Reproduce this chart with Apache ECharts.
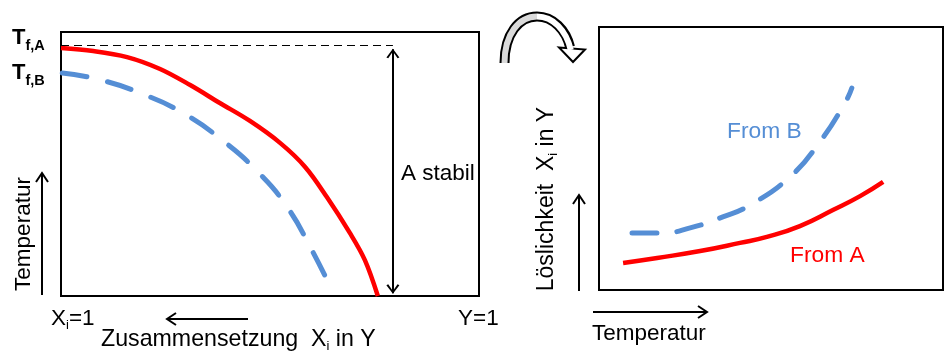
<!DOCTYPE html>
<html><head><meta charset="utf-8">
<script src="https://cdn.jsdelivr.net/npm/echarts@6/dist/echarts.min.js"></script>
<style>html,body{margin:0;padding:0;background:#fff}#c{width:947px;height:353px}</style>
</head><body><div id="c"></div>
<script>
// ---- Left panel: composition (0 = X_i=1 ... 1 = Y=1) vs. normalized temperature
const leftX_A = [0, 0.077, 0.158, 0.237, 0.309, 0.380, 0.452, 0.524, 0.584, 0.636, 0.691, 0.727, 0.758];
const leftT_A = [0.939, 0.928, 0.905, 0.860, 0.799, 0.731, 0.663, 0.580, 0.489, 0.375, 0.239, 0.136, 0.0];
const leftX_B = [0.003, 0.086, 0.189, 0.292, 0.385, 0.471, 0.541, 0.596, 0.648];
const leftT_B = [0.845, 0.822, 0.769, 0.693, 0.591, 0.470, 0.337, 0.186, 0.023];
const tfA = 0.951;          // level of T_f,A (dashed guide)
const stableX = 0.794;      // position of the "A stabil" double arrow
const stableTop = 0.935;
const stableBottom = 0.01;
// ---- Right panel: temperature vs. solubility (normalized)
const rightT_A = [0.070, 0.169, 0.294, 0.410, 0.488, 0.584, 0.680, 0.759, 0.826];
const rightS_A = [0.103, 0.122, 0.148, 0.179, 0.202, 0.243, 0.304, 0.357, 0.411];
const rightT_B = [0.096, 0.183, 0.265, 0.360, 0.439, 0.555, 0.642, 0.715, 0.735];
const rightS_B = [0.217, 0.217, 0.236, 0.278, 0.323, 0.430, 0.563, 0.711, 0.768];
// ---- Labels
const labelTfA = ['T', 'f,A'];
const labelTfB = ['T', 'f,B'];
const labelStable = 'A stabil';
const labelFromA = 'From A';
const labelFromB = 'From B';
const labelTemp = 'Temperatur';
const labelXi1 = ['X', 'i', '=1'];
const labelY1 = 'Y=1';
const labelComp = ['Zusammensetzung  X', 'i', ' in Y'];
const labelSol = ['Löslichkeit  X', 'i', ' in Y'];

const RED = '#FF0000', BLUE = '#558ED5';
const FONT = '"Liberation Sans", Arial, sans-serif';
const FS = 22.5;
const zip = (a, b) => a.map((v, i) => [v, b[i]]);

function arrowEls(x1, y1, x2, y2) {
  const dx = x2 - x1, dy = y2 - y1, L = Math.hypot(dx, dy);
  const ux = dx / L, uy = dy / L, nx = -uy, ny = ux, a = 9, w = 6;
  return [
    {type: 'polyline', silent: true, shape: {points: [[x1, y1], [x2, y2]]}, style: {stroke: '#000', lineWidth: 2, fill: null}},
    {type: 'polyline', silent: true, shape: {points: [[x2 - a*ux + w*nx, y2 - a*uy + w*ny], [x2, y2], [x2 - a*ux - w*nx, y2 - a*uy - w*ny]]},
     style: {stroke: '#000', lineWidth: 2, fill: null}}
  ];
}
function subText(x, y, parts, rot, size) {
  const fs = size || FS;
  return {
    type: 'text', silent: true, x: x, y: y, rotation: rot || 0,
    style: {
      text: '{a|' + parts[0] + '}{s|' + parts[1] + '}{a|' + parts[2] + '}',
      align: rot ? 'center' : 'left', verticalAlign: 'middle',
      rich: {
        a: {fontSize: fs, fontFamily: FONT, fill: '#000', lineHeight: 26},
        s: {fontSize: 13, fontFamily: FONT, fill: '#000', lineHeight: 14, padding: [12, 0, 0, 0]}
      }
    }
  };
}
function tLabel(x, y, parts) {
  return {
    type: 'text', silent: true, x: x, y: y,
    style: {
      text: '{T|' + parts[0] + '}{s|' + parts[1] + '}', align: 'left', verticalAlign: 'middle',
      rich: {
        T: {fontSize: 22, fontWeight: 'bold', fontFamily: FONT, fill: '#000', lineHeight: 30},
        s: {fontSize: 14.5, fontWeight: 'bold', fontFamily: FONT, fill: '#000', lineHeight: 15, padding: [15, 0, 0, 0]}
      }
    }
  };
}
function plainText(x, y, text, color, size, align, rot) {
  return {type: 'text', silent: true, x: x, y: y, rotation: rot || 0,
    style: {text: text, fontSize: size || FS, fontFamily: FONT, fill: color || '#000', align: align || 'left', verticalAlign: 'middle'}};
}

const chev = 'path://M5,0L5.01,0Z M0,20 L5,10 L10,20 L8.6,20.9 L5,13.3 L1.4,20.9 Z';

const graphic = [
  tLabel(12, 38, labelTfA),
  tLabel(12, 73, labelTfB),
  plainText(24, 234, labelTemp, '#000', FS, 'center', Math.PI / 2),
  ...arrowEls(42, 295, 42, 173),
  subText(51, 319, labelXi1),
  plainText(458, 319, labelY1),
  ...arrowEls(248, 319, 167, 319),
  subText(101, 340, labelComp, 0, 23.2),
  plainText(401, 174, labelStable),
  plainText(727, 132, labelFromB, BLUE, 22.8),
  plainText(790, 256, labelFromA, RED, 22.8),
  subText(547, 199, labelSol, Math.PI / 2, 23),
  ...arrowEls(579, 291, 579, 195),
  ...arrowEls(593, 312, 707, 312),
  plainText(592, 334, labelTemp),
  // curved hollow arrow between the panels
  {type: 'bezierCurve', silent: true, z: 10, shape: {x1: 504.5, y1: 63, cpx1: 504.5, cpy1: 34, cpx2: 519, cpy2: 16.5, x2: 537, y2: 16.5},
   style: {stroke: '#000', lineWidth: 10, fill: null}},
  {type: 'bezierCurve', silent: true, z: 10, shape: {x1: 537, y1: 16.5, cpx1: 553, cpy1: 16.5, cpx2: 566, cpy2: 30, x2: 570, y2: 47},
   style: {stroke: '#000', lineWidth: 10, fill: null}},
  {type: 'polygon', silent: true, z: 11, shape: {points: [[559, 47.5], [585, 49.5], [573, 62]]},
   style: {stroke: '#000', lineWidth: 2, fill: '#fff', lineJoin: 'miter'}},
  {type: 'bezierCurve', silent: true, z: 12, shape: {x1: 504.5, y1: 63, cpx1: 504.5, cpy1: 34, cpx2: 519, cpy2: 16.5, x2: 537, y2: 16.5},
   style: {stroke: '#dadada', lineWidth: 6, fill: null}},
  {type: 'bezierCurve', silent: true, z: 12, shape: {x1: 537, y1: 16.5, cpx1: 553, cpy1: 16.5, cpx2: 566, cpy2: 30, x2: 570.8, y2: 50},
   style: {stroke: '#fff', lineWidth: 6, fill: null}}
];

const axisHidden = {type: 'value', min: 0, max: 1, show: false};
const option = {
  animation: false,
  grid: [
    {left: 61, top: 32, width: 418, height: 264, show: true, borderColor: '#000', borderWidth: 2, backgroundColor: '#fff'},
    {left: 599, top: 27, width: 344, height: 263, show: true, borderColor: '#000', borderWidth: 2, backgroundColor: '#fff'}
  ],
  xAxis: [Object.assign({gridIndex: 0}, axisHidden), Object.assign({gridIndex: 1}, axisHidden)],
  yAxis: [Object.assign({gridIndex: 0}, axisHidden), Object.assign({gridIndex: 1}, axisHidden)],
  series: [
    {type: 'line', xAxisIndex: 0, yAxisIndex: 0, data: zip(leftX_A, leftT_A), symbol: 'none', smooth: 0.35,
     lineStyle: {color: RED, width: 4.5}, silent: true, z: 3,
     markLine: {
       silent: true, animation: false, label: {show: false}, symbol: ['none', 'none'],
       data: [
         [{coord: [0, tfA], symbol: 'none', lineStyle: {color: '#000', width: 1.2, type: [8, 5]}}, {coord: [stableX, tfA], symbol: 'none'}],
         [{coord: [stableX, stableTop], symbol: chev, symbolSize: [13, 18], lineStyle: {color: '#000', width: 2, type: 'solid'}},
          {coord: [stableX, stableBottom], symbol: chev, symbolSize: [13, 18]}]
       ]
     }},
    {type: 'line', xAxisIndex: 0, yAxisIndex: 0, data: zip(leftX_B, leftT_B), symbol: 'none', smooth: 0.5,
     lineStyle: {color: BLUE, width: 5, type: [25, 21], cap: 'round'}, silent: true, z: 2},
    {type: 'line', xAxisIndex: 1, yAxisIndex: 1, data: zip(rightT_A, rightS_A), symbol: 'none', smooth: 0.5,
     lineStyle: {color: RED, width: 4.5}, silent: true},
    {type: 'line', xAxisIndex: 1, yAxisIndex: 1, data: zip(rightT_B, rightS_B), symbol: 'none', smooth: 0.5,
     lineStyle: {color: BLUE, width: 5, type: [25, 20], cap: 'round'}, silent: true}
  ],
  graphic: graphic
};
const chart = echarts.init(document.getElementById('c'), null, {renderer: 'canvas'});
chart.setOption(option);
</script>
</body></html>
